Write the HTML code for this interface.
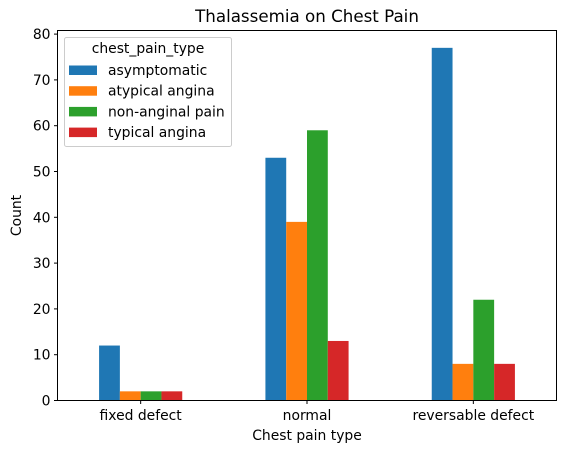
<!DOCTYPE html>
<html><head><meta charset="utf-8"><style>
body{margin:0;background:#fff;}
svg{font-family:"DejaVu Sans","Liberation Sans",sans-serif;}
</style></head><body>
<svg id="chart" width="566" height="453"></svg>
<script>
const categories=["fixed defect","normal","reversable defect"];
const seriesNames=["asymptomatic","atypical angina","non-anginal pain","typical angina"];
const asymptomatic=[12,53,77];
const atypicalAngina=[2,39,8];
const nonAnginalPain=[2,59,22];
const typicalAngina=[2,13,8];
const yTicks=[0,10,20,30,40,50,60,70,80];
const series=[asymptomatic,atypicalAngina,nonAnginalPain,typicalAngina];
const colors=["#1f77b4","#ff7f0e","#2ca02c","#d62728"];
const L=57.5,R=556.5,T=30.5,B=400.5;
const NS="http://www.w3.org/2000/svg";
const svg=document.getElementById('chart');
function ys(v){return B-v*4.58;}
function x(i){return L+(i+0.5)/3*(R-L);}
function mk(t,a,p){const e=document.createElementNS(NS,t);for(const k in a)e.setAttribute(k,a[k]);(p||svg).appendChild(e);return e;}
const bw=(R-L)/3*0.125;
series.forEach((s,si)=>{s.forEach((v,ci)=>{
 const x0=x(ci)-2*bw+si*bw;
 const r=mk('rect',{x:x0,y:ys(v),width:bw,height:B-ys(v),fill:colors[si]});
 
 
});});
const ax=mk('rect',{x:L,y:T,width:R-L,height:B-T,fill:'none',stroke:'#000','stroke-width':1});

yTicks.forEach(t=>{
 const yy=ys(t);
 const l=mk('line',{x1:L-3.5,x2:L,y1:yy,y2:yy,stroke:'#000'});
 
 const tx=mk('text',{x:L-7,y:yy+5,'text-anchor':'end','font-size':13.9});
 tx.textContent=t;
});
categories.forEach((c,i)=>{
 const xx=x(i);
 const l=mk('line',{x1:xx,x2:xx,y1:B,y2:B+3.5,stroke:'#000'});
 
 const tx=mk('text',{x:xx,y:420,'text-anchor':'middle','font-size':13.9});
 tx.textContent=c;
});
let t=mk('text',{x:(L+R)/2,y:22,'text-anchor':'middle','font-size':16.7});t.textContent='Thalassemia on Chest Pain';

t=mk('text',{x:(L+R)/2,y:440,'text-anchor':'middle','font-size':13.9});t.textContent='Chest pain type';

t=mk('text',{x:0,y:0,'text-anchor':'middle','font-size':13.9,transform:'translate(21,'+((T+B)/2)+') rotate(-90)'});t.textContent='Count';

const lg=mk('g',{});
mk('rect',{x:64.5,y:37.5,width:167,height:109,rx:2,fill:'#fff','fill-opacity':0.8,stroke:'#ccc'},lg);
t=mk('text',{x:148,y:53,'text-anchor':'middle','font-size':13.9},lg);t.textContent='chest_pain_type';

seriesNames.forEach((n,i)=>{
 const yy=70+i*20.7;
 const g=mk('g',{},lg);
 mk('rect',{x:69,y:yy-4.5,width:28,height:9.5,fill:colors[i]},g);
 const tx=mk('text',{x:108,y:yy+5,'font-size':13.9},g);tx.textContent=n;
});
</script>
</body></html>
